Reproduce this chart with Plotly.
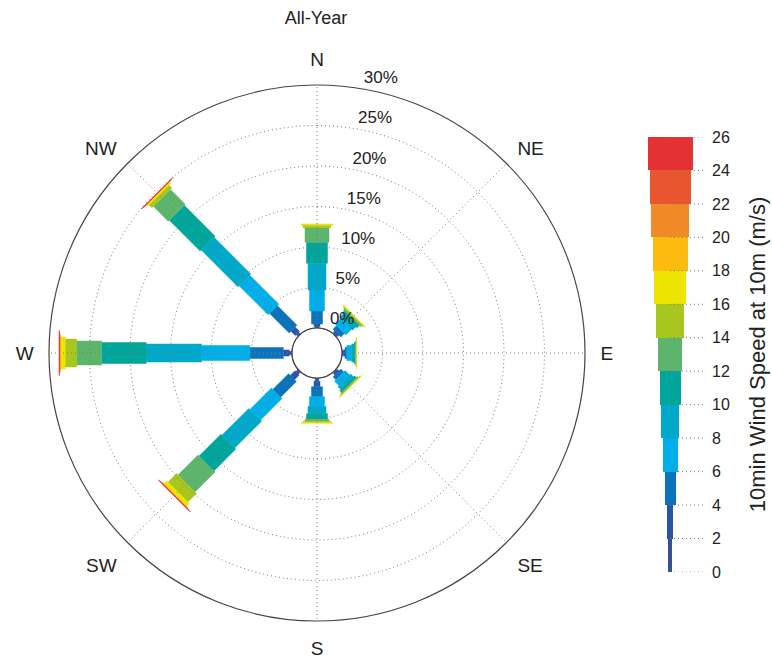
import numpy as np
import plotly.graph_objects as go

# ---- data -------------------------------------------------------------
DIRECTIONS = ["N", "NE", "E", "SE", "S", "SW", "W", "NW"]
DIR_ANGLES = [0, 45, 90, 135, 180, 225, 270, 315]
SPEED_EDGES = [0, 2, 4, 6, 8, 10, 12, 14, 16, 18, 20, 22, 24, 26]  # m/s

# frequency (%) of each 2 m/s speed bin, per direction
FREQ_N = [0.2, 0.3, 1.6, 2.6, 3.3, 2.6, 1.8, 0.3, 0.15, 0, 0, 0, 0]
FREQ_NE = [0.15, 0.25, 0.6, 1.0, 0.6, 0.4, 0.2, 0.15, 0.07, 0, 0, 0, 0]
FREQ_E = [0.15, 0.22, 0.23, 0.6, 0.3, 0.15, 0.08, 0.05, 0.03, 0, 0, 0, 0]
FREQ_SE = [0.15, 0.25, 0.5, 0.8, 0.5, 0.3, 0.15, 0.1, 0.05, 0, 0, 0, 0]
FREQ_S = [0.4, 0.67, 1.23, 1.2, 0.9, 0.7, 0.25, 0.15, 0.1, 0, 0, 0, 0]
FREQ_SW = [0.4, 0.8, 2.75, 3.75, 4.7, 3.8, 3.5, 1.5, 0.5, 0.05, 0.05, 0.03, 0.04]
FREQ_W = [0.35, 0.72, 4.13, 5.95, 6.85, 5.5, 3.1, 1.4, 0.6, 0.04, 0.04, 0.03, 0.05]
FREQ_NW = [0.35, 0.75, 3.4, 5.1, 6.4, 5.4, 2.6, 0.5, 0.2, 0.04, 0.03, 0.03, 0.03]

RING_TICKS = [0, 5, 10, 15, 20, 25, 30]
RING_LABELS = ["0%", "5%", "10%", "15%", "20%", "25%", "30%"]

# ---- style ------------------------------------------------------------
BIN_COLORS = ["#33509f", "#2756a8", "#0b72bc", "#00aeea", "#00a9c9",
              "#00a59b", "#5db46b", "#a9c61e", "#ece500", "#fdbb10",
              "#f18a26", "#e8552f", "#e43234"]
BIN_WIDTH_PX = [3.5, 6, 11, 15, 18, 21, 24, 28, 32, 35, 38, 41, 45]

FONT = "Liberation Sans, Arial, sans-serif"
TEXT_COLOR = "#222222"
GRID_COLOR = "#7a7a7a"

W_PX, H_PX = 772, 659
POLAR_PX = 536                      # diameter of the rose
POLAR_LEFT, POLAR_TOP = 49, 85      # top-left corner of the rose box
R_PX = POLAR_PX / 2
HOLE = 25 / R_PX
R_MAX = 30
RING_LABEL_ANGLE = 8

px_per_pct = R_PX * (1 - HOLE) / R_MAX
r_center = R_PX * HOLE / px_per_pct   # centre of the rose in radial units

freqs = [FREQ_N, FREQ_NE, FREQ_E, FREQ_SE, FREQ_S, FREQ_SW, FREQ_W, FREQ_NW]


def segment(theta, c0, c1, half):
    """Rectangle along direction theta, between radial values c0 and c1."""
    a = np.array([c0, c1, c1, c0, c0]) + r_center
    b = np.array([-half, -half, half, half, -half])
    dist = np.hypot(a, b)
    ang = theta + np.degrees(np.arctan2(b, a))
    return list(dist - r_center), list(ang)


fig = go.Figure()

# stacked speed-bin segments
n_bins = len(SPEED_EDGES) - 1
for i in range(n_bins):
    half = BIN_WIDTH_PX[i] / 2 / px_per_pct
    rr, tt = [], []
    for ang, f in zip(DIR_ANGLES, freqs):
        if f[i] <= 0:
            continue
        c0 = float(np.sum(f[:i]))
        c1 = c0 + f[i]
        r_, t_ = segment(ang, c0, c1, half)
        rr += r_ + [None]
        tt += t_ + [None]
    if not rr:
        continue
    fig.add_trace(go.Scatterpolar(
        r=rr, theta=tt, mode="lines", fill="toself",
        fillcolor=BIN_COLORS[i], line=dict(color=BIN_COLORS[i], width=0.5),
        hoverinfo="skip", showlegend=False))

# dotted grid drawn over the bars
theta_circle = list(np.linspace(0, 360, 361))
gr, gt = [], []
for v in RING_TICKS[1:-1]:
    gr += [v] * len(theta_circle) + [None]
    gt += theta_circle + [None]
for ang in DIR_ANGLES:
    gr += [0, R_MAX, None]
    gt += [ang, ang, None]
fig.add_trace(go.Scatterpolar(
    r=gr, theta=gt, mode="lines",
    line=dict(color=GRID_COLOR, width=1, dash="1px,3px"),
    hoverinfo="skip", showlegend=False))

# inner circle
fig.add_trace(go.Scatterpolar(
    r=[0] * len(theta_circle), theta=theta_circle, mode="lines",
    line=dict(color="#444444", width=1.2), hoverinfo="skip", showlegend=False))

# ring percentage labels (small left padding)
fig.add_trace(go.Scatterpolar(
    r=RING_TICKS, theta=[RING_LABEL_ANGLE] * len(RING_TICKS), mode="text",
    text=["\u00a0\u00a0" + s for s in RING_LABELS],
    textposition="top right", cliponaxis=False,
    textfont=dict(family=FONT, size=17, color=TEXT_COLOR),
    hoverinfo="skip", showlegend=False))

# ---- speed key --------------------------------------------------------
key_base = SPEED_EDGES[:-1]
key_size = [b - a for a, b in zip(SPEED_EDGES[:-1], SPEED_EDGES[1:])]

lx, ly = [], []
for v in SPEED_EDGES:
    lx += [0, 35, None]
    ly += [v, v, None]
fig.add_trace(go.Scatter(
    x=lx, y=ly, mode="lines", xaxis="x2", yaxis="y2",
    line=dict(color=GRID_COLOR, width=1, dash="1px,3px"),
    hoverinfo="skip", showlegend=False))

fig.add_trace(go.Bar(
    x=[0] * n_bins, y=key_size, base=key_base, width=BIN_WIDTH_PX,
    marker=dict(color=BIN_COLORS, line=dict(width=0)),
    xaxis="x2", yaxis="y2", hoverinfo="skip", showlegend=False))

pdx = [POLAR_LEFT / W_PX, (POLAR_LEFT + POLAR_PX) / W_PX]
pdy = [1 - (POLAR_TOP + POLAR_PX) / H_PX, 1 - POLAR_TOP / H_PX]

fig.update_layout(
    width=W_PX, height=H_PX,
    margin=dict(l=0, r=0, t=0, b=0, autoexpand=False),
    paper_bgcolor="white", plot_bgcolor="white",
    font=dict(family=FONT, color=TEXT_COLOR),
    title=dict(text="All-Year", x=316 / W_PX, xanchor="center",
               y=1 - 18 / H_PX, yanchor="middle",
               font=dict(family=FONT, size=18, color=TEXT_COLOR)),
    polar=dict(
        domain=dict(x=pdx, y=pdy),
        hole=HOLE, bgcolor="white",
        radialaxis=dict(range=[0, R_MAX], showticklabels=False, ticks="",
                        showgrid=False, showline=False),
        angularaxis=dict(direction="clockwise", rotation=90,
                         tickmode="array", tickvals=DIR_ANGLES,
                         ticktext=DIRECTIONS, ticks="outside", ticklen=11,
                         tickcolor="rgba(0,0,0,0)",
                         tickfont=dict(family=FONT, size=19, color=TEXT_COLOR),
                         showgrid=False,
                         showline=True, linecolor="#444444", linewidth=1.2),
    ),
    xaxis2=dict(domain=[630 / W_PX, 705 / W_PX], range=[-40, 35],
                visible=False, fixedrange=True),
    yaxis2=dict(domain=[1 - 572 / H_PX, 1 - 137 / H_PX], range=[0, 26],
                anchor="x2", side="right", tickvals=SPEED_EDGES,
                automargin=False, ticklabelstandoff=6,
                ticks="", showgrid=False, zeroline=False, showline=False,
                tickfont=dict(family=FONT, size=16, color=TEXT_COLOR),
                title=dict(text="10min Wind Speed at 10m (m/s)",
                           font=dict(family=FONT, size=22, color=TEXT_COLOR),
                           standoff=20)),
    bargap=0,
)

fig.write_html("out.html")
